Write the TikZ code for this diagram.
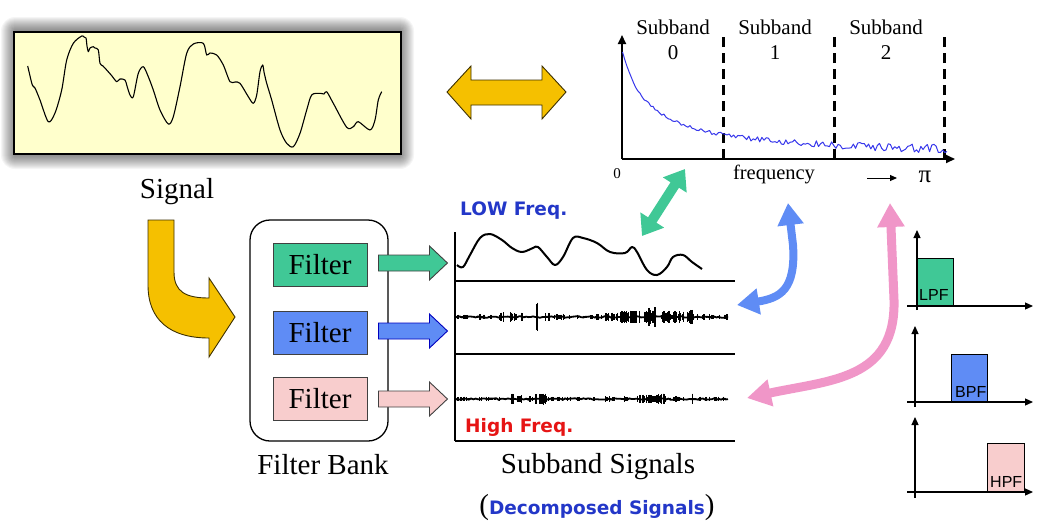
\documentclass[tikz,border=0pt]{standalone}
\usepackage{fontspec}
\setmainfont{Liberation Serif}
\newfontfamily\vsans{DejaVu Sans}
\newfontfamily\asans{Liberation Sans}
\usetikzlibrary{arrows.meta,calc}
\definecolor{fgreen}{RGB}{64,200,150}
\definecolor{fblue}{RGB}{95,140,245}
\definecolor{fpink}{RGB}{248,205,205}
\definecolor{apink}{RGB}{240,150,200}
\definecolor{ayellow}{RGB}{245,192,0}
\definecolor{sigbg}{RGB}{255,255,204}
\definecolor{tblue}{RGB}{35,55,200}
\definecolor{tred}{RGB}{230,20,20}
\definecolor{specblue}{RGB}{55,55,235}
\newcommand\mkburst[5]{%
  \foreach \k in {1,...,#5}{%
    \pgfmathsetmacro\xx{#2+#3*rand}%
    \pgfmathsetmacro\aa{#4*(0.3+0.7*rnd)}%
    \draw[line width=1.4pt] (\xx,{#1-\aa}) -- (\xx,{#1+\aa});
  }}
\begin{document}
\begin{tikzpicture}[x=1pt,y=-1pt,
  big/.style={font=\fontsize{29}{34}\selectfont, inner sep=0pt},
  mid/.style={font=\fontsize{21}{26}\selectfont, inner sep=0pt, align=center},
  filt/.style={draw=black!75, line width=0.9pt, minimum width=94pt, minimum height=43pt, inner sep=0pt, font=\fontsize{29}{34}\selectfont},
  yarrow/.style={fill=ayellow, draw=black!75!ayellow, line width=0.9pt},
  barrowst/.style={line width=0.9pt},
  barrow/.pic={\path[pic actions] (0,-8) -- (51,-8) -- (51,-17) -- (69,0) -- (51,17) -- (51,8) -- (0,8) -- cycle;},
  sansb/.style={font=\vsans\bfseries\fontsize{18.5}{22}\selectfont, inner sep=0pt},
  ftag/.style={font=\asans\fontsize{16}{19}\selectfont, inner sep=0pt, anchor=base west},
  ax/.style={line width=1.2pt, -{Triangle[length=8pt,width=7pt]}},
]
\pgfmathsetseed{11}
\useasboundingbox (0,0) rectangle (1041,528);

% ---------- signal box with shadow ----------
\foreach \i in {1,...,14}
  \fill[black, opacity=0.038, rounded corners=\i pt] (15-\i,31-\i) rectangle (400+\i,155+\i);
\node[draw, fill=sigbg, line width=1.6pt, minimum width=387pt, minimum height=122pt, inner sep=0pt] (sig) at (207.5,93) {};
\draw[line width=1.1pt, line join=round] plot[smooth, tension=0.5] coordinates {
 (27.7,66) (31.7,83) (33,86) (35,88) (40,100) (48.3,121.7) (55,113) (61.7,90) (66.7,60) (73.3,43.3) (81.7,36)
 (84,37) (86,38) (87,46) (88.3,51.7) (90,48) (93.3,46.7) (95,48) (98.3,50) (100,63.3) (103,66) (106.7,70) (112,76) (116.7,81.7) (120,79) (125,80) (127,86) (130,95)
 (133.3,96.7) (138.3,73.3) (143.3,66.7) (148.3,76.7) (153.3,90) (160,110) (168.3,124) (173.3,116.7)
 (180,86.7) (186.7,53.3) (193.3,44) (203.3,43.3) (206.7,55) (210,53) (216.7,55) (223.3,65) (230,81.7)
 (235,82) (240,83.3) (248.3,96.7) (253.3,103.3) (256.7,95) (260,71.7) (262.7,65) (264,72) (266.7,83.3) (271.7,100)
 (280,130) (286.7,143.3) (293.3,146.7) (300,133.3) (306.7,110) (311.7,95) (320,93.3) (324,94) (326.7,91.7)
 (333.3,103.3) (346.7,127.3) (353.3,126.7) (358.3,121.7) (370,130) (375,120) (378.3,100) (381.7,91.7)};
\node[big] (siglabel) at (177,192) {Signal};

% ---------- yellow arrows ----------
\path[yarrow] (447,92) -- (471,66) -- (471,80) -- (542,80) -- (542,66) -- (566,92)
  -- (542,119) -- (542,105) -- (471,105) -- (471,119) -- cycle;
\path[yarrow] (148,220) -- (174,220) -- (174,272) .. controls (174,292) and (186,298) .. (209,298)
  -- (209,278) -- (235,317) -- (209,357) -- (209,338) .. controls (170,338) and (148,320) .. (148,285) -- cycle;

% ---------- spectrum ----------
\coordinate (o) at (622,159);
\coordinate (ytop) at (622,35);
\coordinate (xend) at (955,159);
\draw[line width=2pt, -{Triangle[length=9pt,width=8pt]}] (o) -- (ytop);
\draw[line width=2pt, -{Triangle[length=9pt,width=8pt]}] (o) -- (xend);
\foreach \xd in {723,834,944}
  \draw[line width=3pt, dash pattern=on 10pt off 6pt] (\xd,159) -- (\xd,33);
\draw[specblue, line width=1pt, line join=round] plot[domain=622.5:947, samples=150, variable=\t]
  (\t, {159-(2838/(\t-622+26.5)+2) + (1.2+3.5*(\t-622)/325)*rand});
\node[mid] (sb0) at (673,40) {Subband\\[-1pt]0};
\node[mid] (sb1) at (775,40) {Subband\\[-1pt]1};
\node[mid] (sb2) at (886,40) {Subband\\[-1pt]2};
\node[font=\fontsize{15}{18}\selectfont, inner sep=0pt] (zero) at (617,174) {0};
\node[font=\fontsize{20.5}{24}\selectfont, inner sep=0pt] (freq) at (774,174) {frequency};
\node[font=\fontsize{25}{28}\selectfont, inner sep=0pt] (pi) at (925,177) {π};
\coordinate (fa1) at (867,178);
\coordinate (fa2) at (897,178);
\draw[line width=1pt, -{Triangle[length=7pt,width=6pt]}] (fa1) -- (fa2);

% ---------- filter bank ----------
\node[draw, line width=1.3pt, rounded corners=20pt, minimum width=138pt, minimum height=221pt] (bank) at (319,330.5) {};
\node[filt, fill=fgreen] (f1) at (320,264.5) {Filter};
\node[filt, fill=fblue]  (f2) at (320,332.5) {Filter};
\node[filt, fill=fpink]  (f3) at (320,399) {Filter};
\node[big] (banklabel) at (323,465) {Filter Bank};
\pic[fill=fgreen, draw=black!75, barrowst] at ($(f1.east)+(11,-1.5)$) {barrow};
\pic[fill=fblue, draw=blue!75!black, barrowst] at ($(f2.east)+(11,-1.5)$) {barrow};
\pic[fill=fpink, draw=black!75, barrowst] at ($(f3.east)+(11,0)$) {barrow};

% ---------- subband signals ----------
\draw[line width=1.8pt] (455,232) -- (455,441);
\draw[line width=1.8pt] (455,281) -- (735,281);
\draw[line width=1.8pt] (455,354) -- (735,354);
\draw[line width=1.8pt] (455,441) -- (735,441);
\draw[line width=2pt, line join=round] plot[smooth, tension=0.6] coordinates {
 (457,265) (463,267) (470,255) (480,238) (490,234) (502,240) (512,248) (522,252) (533,248) (538,247)
 (547,257) (555,265) (563,257) (573,238) (583,238) (597,243) (610,252) (625,253) (632,247) (637,252)
 (647,270) (657,275) (667,267) (673,257) (683,255) (692,262) (702,269)};
\draw[line width=1.8pt] plot[domain=455:728, samples=120, variable=\t] (\t,{317+0.8*rand});
\mkburst{317}{462}{5}{2.5}{8}
\mkburst{317}{482}{10}{3}{14}
\mkburst{317}{502}{3}{5}{6}
\mkburst{317}{516}{7}{5.5}{14}
\mkburst{317}{537}{0.6}{15}{3}
\mkburst{317}{547}{2}{8}{4}
\mkburst{317}{562}{8}{3.5}{10}
\mkburst{317}{585}{10}{2.5}{10}
\mkburst{317}{600}{5}{3.5}{7}
\mkburst{317}{612}{6}{4.5}{12}
\mkburst{317}{630}{10}{6.5}{40}
\mkburst{317}{650}{6}{10}{24}
\mkburst{317}{672}{12}{6.5}{40}
\mkburst{317}{690}{3}{8}{8}
\mkburst{317}{710}{18}{3}{18}
\draw[line width=1.8pt] plot[domain=455:728, samples=120, variable=\t] (\t,{399+0.8*rand});
\mkburst{399}{465}{8}{2.5}{10}
\mkburst{399}{490}{12}{2.5}{12}
\mkburst{399}{512}{1.5}{7}{4}
\mkburst{399}{520}{2}{5}{5}
\mkburst{399}{530}{4}{3.5}{6}
\mkburst{399}{541}{6}{5.5}{14}
\mkburst{399}{560}{12}{2.5}{12}
\mkburst{399}{585}{10}{2.5}{10}
\mkburst{399}{615}{12}{3}{14}
\mkburst{399}{645}{8}{4.5}{20}
\mkburst{399}{658}{8}{5.5}{26}
\mkburst{399}{675}{10}{3}{12}
\mkburst{399}{693}{0.6}{9}{3}
\mkburst{399}{712}{15}{2.5}{12}
\node[sansb, text=tblue, anchor=base west] (low) at (460,215) {LOW Freq.};
\node[sansb, text=tred, anchor=base west] (high) at (465,432) {High Freq.};
\node[big] (sublabel) at (598,467) {Subband Signals};
\node[big] (decomp) at (597,508) {(\textcolor{tblue}{\vsans\bfseries\fontsize{18.5}{22}\selectfont Decomposed Signals})};

% ---------- correspondence arrows ----------
\coordinate (g1) at (642,236);
\coordinate (g2) at (685,169);
\draw[fgreen, line width=10pt, {Triangle[width=27pt,length=19pt]}-{Triangle[width=27pt,length=19pt]}] (g1) -- (g2);
\coordinate (b1) at (788,203);
\coordinate (b2) at (737,305);
\draw[fblue, line width=8pt, {Triangle[width=25pt,length=22pt]}-{Triangle[width=25pt,length=22pt]}]
  (b1) -- (793,245) .. controls (796,290) and (780,298) .. (b2);
\coordinate (p1) at (890,203);
\coordinate (p2) at (747,398);
\draw[apink, line width=9pt, {Triangle[width=26pt,length=24pt]}-{Triangle[width=26pt,length=24pt]}]
  (p1) -- (894,300) .. controls (896,380) and (830,380) .. (p2);

% ---------- LPF / BPF / HPF ----------
\fill[fgreen] (917,258) rectangle (953,306);
\draw[line width=0.8pt] (917,258) rectangle (953,306);
\fill[fblue] (951,354) rectangle (987,402);
\draw[line width=0.8pt] (951,354) rectangle (987,402);
\fill[fpink] (987,443) rectangle (1024,492);
\draw[line width=0.8pt] (987,443) rectangle (1024,492);
\draw[ax] (917,310) -- (917,230);
\draw[ax] (907,306) -- (1033,306);
\draw[ax] (915,407) -- (915,326);
\draw[ax] (907,402) -- (1033,402);
\draw[ax] (915,498) -- (915,417);
\draw[ax] (907,492) -- (1033,492);
\node[ftag] (lpf) at (919,300) {LPF};
\node[ftag] (bpf) at (955,397) {BPF};
\node[ftag] (hpf) at (990,487) {HPF};
\end{tikzpicture}
\end{document}
